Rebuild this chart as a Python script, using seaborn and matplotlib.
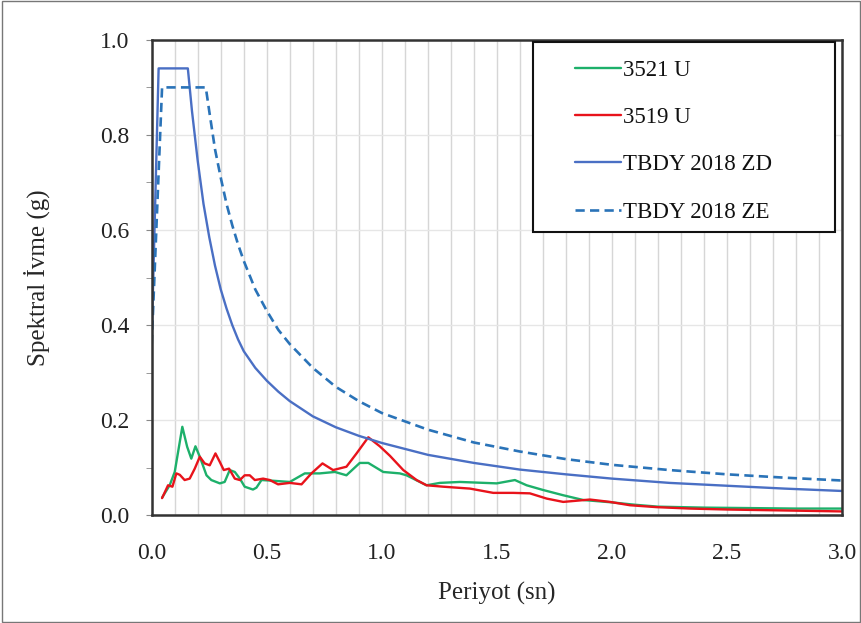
import numpy as np
import pandas as pd
import matplotlib
matplotlib.use("Agg")
import matplotlib.pyplot as plt
import seaborn as sns
from matplotlib.ticker import MultipleLocator, FormatStrFormatter

t_3521 = [0.045, 0.078, 0.100, 0.133, 0.154, 0.172, 0.190, 0.209, 0.238, 0.259,
          0.296, 0.317, 0.339, 0.361, 0.383, 0.404, 0.440, 0.455, 0.477, 0.513,
          0.600, 0.665, 0.730, 0.796, 0.846, 0.904, 0.941, 1.006, 1.078, 1.107,
          1.194, 1.252, 1.339, 1.499, 1.578, 1.629, 1.701, 1.788, 1.875, 2.000,
          2.100, 2.200, 2.400, 2.600, 2.800, 3.000]
sa_3521 = [0.037, 0.063, 0.091, 0.186, 0.144, 0.119, 0.145, 0.123, 0.084, 0.074,
           0.067, 0.070, 0.095, 0.091, 0.077, 0.060, 0.054, 0.058, 0.074, 0.073,
           0.070, 0.088, 0.088, 0.091, 0.084, 0.110, 0.110, 0.091, 0.088, 0.084,
           0.063, 0.068, 0.070, 0.067, 0.074, 0.063, 0.053, 0.042, 0.032, 0.027,
           0.022, 0.018, 0.016, 0.015, 0.014, 0.014]

t_3519 = [0.045, 0.071, 0.090, 0.107, 0.122, 0.143, 0.165, 0.187, 0.209, 0.230,
          0.252, 0.277, 0.296, 0.313, 0.336, 0.361, 0.383, 0.404, 0.426, 0.448,
          0.484, 0.513, 0.549, 0.600, 0.651, 0.694, 0.742, 0.788, 0.846, 0.890,
          0.941, 0.991, 1.035, 1.093, 1.151, 1.194, 1.267, 1.383, 1.484, 1.571,
          1.643, 1.716, 1.788, 1.904, 1.991, 2.078, 2.194, 2.339, 2.500, 2.750,
          3.000]
sa_3519 = [0.036, 0.063, 0.060, 0.088, 0.085, 0.074, 0.077, 0.098, 0.123, 0.109,
           0.105, 0.130, 0.112, 0.095, 0.098, 0.077, 0.074, 0.084, 0.084, 0.074,
           0.077, 0.074, 0.065, 0.068, 0.065, 0.088, 0.109, 0.095, 0.102, 0.130,
           0.164, 0.145, 0.125, 0.095, 0.074, 0.063, 0.060, 0.056, 0.047, 0.047,
           0.046, 0.035, 0.028, 0.033, 0.028, 0.021, 0.017, 0.014, 0.012, 0.010,
           0.008]

# design spectra
t_zd = [0.0, 0.03, 0.157, 0.175, 0.2, 0.225, 0.25, 0.275, 0.3, 0.325, 0.35,
        0.375, 0.4, 0.45, 0.5, 0.55, 0.6, 0.7, 0.8, 0.9, 1.0, 1.2, 1.4, 1.6,
        1.8, 2.0, 2.25, 2.5, 2.75, 3.0]
sa_zd = [0.37, 0.94, 0.94, 0.85, 0.745, 0.655, 0.585, 0.525, 0.475, 0.435, 0.40,
         0.37, 0.345, 0.31, 0.283, 0.26, 0.24, 0.208, 0.185, 0.167, 0.152, 0.127,
         0.110, 0.096, 0.086, 0.077, 0.068, 0.062, 0.056, 0.051]

t_ze = [0.0, 0.045, 0.235, 0.25, 0.275, 0.3, 0.325, 0.35, 0.375, 0.4, 0.45,
        0.5, 0.55, 0.6, 0.7, 0.8, 0.9, 1.0, 1.2, 1.4, 1.6, 1.8, 2.0, 2.25, 2.5,
        2.75, 3.0]
sa_ze = [0.36, 0.90, 0.90, 0.85, 0.77, 0.71, 0.655, 0.61, 0.57, 0.535, 0.475,
         0.43, 0.39, 0.36, 0.31, 0.27, 0.24, 0.215, 0.18, 0.153, 0.134, 0.118,
         0.106, 0.095, 0.086, 0.079, 0.073]

sns.set_style("white")
plt.rcParams['font.family'] = ['Liberation Serif', 'DejaVu Serif']

fig = plt.figure(figsize=(8.62, 6.23), dpi=100)
ax = fig.add_axes([0.176, 0.173, 0.801, 0.763])

d1 = pd.DataFrame({'T': t_3521, 'Sa': sa_3521})
d2 = pd.DataFrame({'T': t_3519, 'Sa': sa_3519})
d3 = pd.DataFrame({'T': t_zd, 'Sa': sa_zd})
d4 = pd.DataFrame({'T': t_ze, 'Sa': sa_ze})

sns.lineplot(data=d1, x='T', y='Sa', ax=ax, color='#1DB06A', lw=1.7, label='3521 U')
sns.lineplot(data=d2, x='T', y='Sa', ax=ax, color='#E8131B', lw=1.7, label='3519 U')
sns.lineplot(data=d3, x='T', y='Sa', ax=ax, color='#4A6FC4', lw=1.7, label='TBDY 2018 ZD')
sns.lineplot(data=d4, x='T', y='Sa', ax=ax, color='#2A73B8', lw=1.9,
             linestyle=(0, (3.5, 2)), label='TBDY 2018 ZE')

ax.set_xlim(0, 3.0)
ax.set_ylim(0, 1.0)
ax.xaxis.set_major_locator(MultipleLocator(0.5))
ax.xaxis.set_minor_locator(MultipleLocator(0.1))
ax.yaxis.set_major_locator(MultipleLocator(0.2))
ax.yaxis.set_minor_locator(MultipleLocator(0.1))
ax.xaxis.set_major_formatter(FormatStrFormatter('%.1f'))
ax.yaxis.set_major_formatter(FormatStrFormatter('%.1f'))
ax.grid(which='both', axis='x', color='#d6d6d6', lw=1.0)
ax.grid(which='major', axis='y', color='#e6e6e6', lw=1.0)
ax.set_axisbelow(True)
ax.tick_params(axis='both', which='major', labelsize=17, colors='#222222')
ax.tick_params(axis='y', which='both', direction='out', length=4, left=True, pad=12, color='#888888')
ax.tick_params(axis='x', which='both', length=0, pad=20)
for s in ax.spines.values():
    s.set_color('#333333')
    s.set_linewidth(1.8)

ax.set_xlabel('Periyot (sn)', fontsize=18, labelpad=13)
ax.set_ylabel('Spektral İvme (g)', fontsize=18, labelpad=36)

# legend box drawn separately so the padding can match
ax.add_patch(plt.Rectangle((0.552, 0.596), 0.438, 0.400, transform=ax.transAxes,
                           fill=True, facecolor='white', edgecolor='#111111',
                           lw=1.5, zorder=5))
leg = ax.legend(loc='center', bbox_to_anchor=(0.756, 0.787), fontsize=16.5,
                frameon=False, labelspacing=1.15, handlelength=2.0,
                handletextpad=0.1, borderpad=0.0)
leg.set_zorder(6)
for t in leg.get_texts():
    t.set_color('#111111')

fig.patches.append(plt.Rectangle((0.002, 0.002), 0.996, 0.996, transform=fig.transFigure,
                                 fill=False, edgecolor='#777777', lw=1.0))

fig.savefig('out.png', dpi=100)
